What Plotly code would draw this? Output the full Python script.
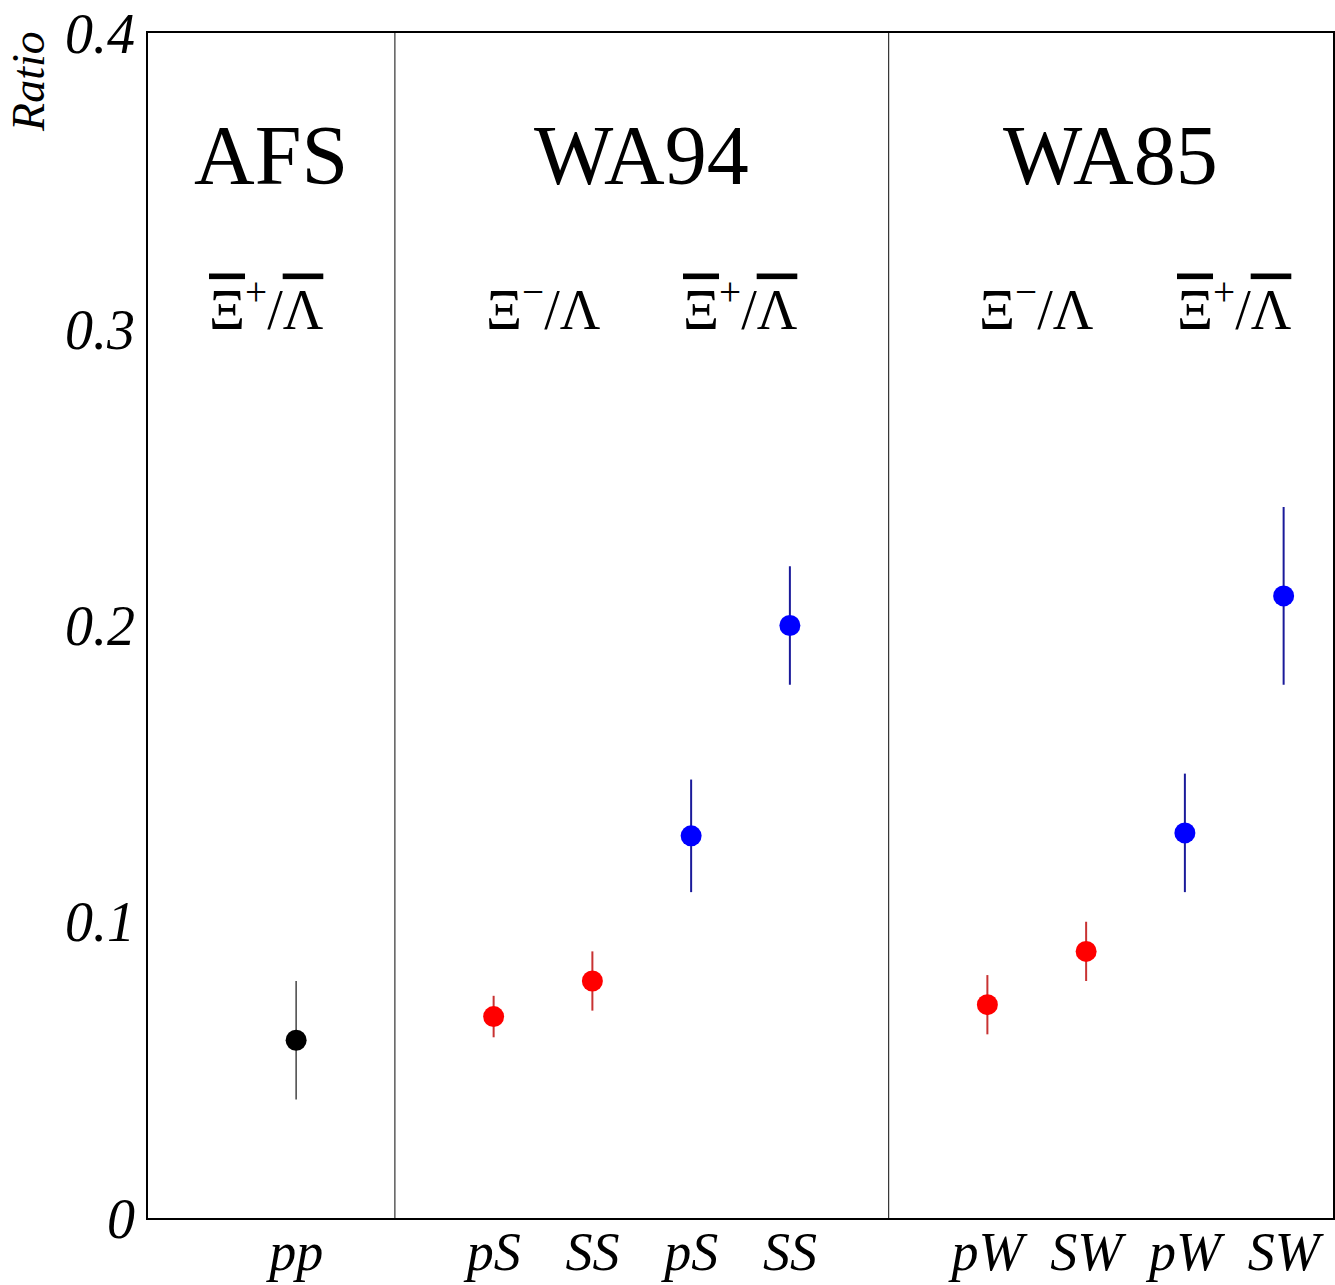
import plotly.graph_objects as go

# ---- data ----
tick_pos = [1.5, 3.5, 4.5, 5.5, 6.5, 8.5, 9.5, 10.5, 11.5]
tick_text = ["pp", "pS", "SS", "pS", "SS", "pW", "SW", "pW", "SW"]

afs_x = [1.5]
afs_y = [0.060]
afs_lo = [0.040]
afs_hi = [0.080]

xi_x = [3.5, 4.5, 8.5, 9.5]
xi_y = [0.068, 0.080, 0.072, 0.090]
xi_lo = [0.061, 0.070, 0.062, 0.080]
xi_hi = [0.075, 0.090, 0.082, 0.100]

axi_x = [5.5, 6.5, 10.5, 11.5]
axi_y = [0.129, 0.200, 0.130, 0.210]
axi_lo = [0.110, 0.180, 0.110, 0.180]
axi_hi = [0.148, 0.220, 0.150, 0.240]

dividers = [2.5, 7.5]
experiments = ["AFS", "WA94", "WA85"]
exp_x = [1.25, 5.0, 9.75]
ratio_labels = ["anti", "xi", "anti", "xi", "anti"]
ratio_x = [1.2, 4.0, 6.0, 9.0, 11.0]

y_ticks = [0, 0.1, 0.2, 0.3, 0.4]
y_text = ["0", "0.1", "0.2", "0.3", "0.4"]

FONT = "Liberation Serif, Times New Roman, serif"

def errs(y, lo, hi):
    return [h - v for v, h in zip(y, hi)], [v - l for v, l in zip(y, lo)]

fig = go.Figure()

def add_series(x, y, lo, hi, color, ecolor, ew):
    plus, minus = errs(y, lo, hi)
    fig.add_trace(go.Scatter(
        x=x, y=y, mode="markers",
        marker=dict(size=21, color=color, line=dict(width=0)),
        error_y=dict(type="data", symmetric=False, array=plus, arrayminus=minus,
                     color=ecolor, thickness=ew, width=0),
        showlegend=False,
    ))

add_series(afs_x, afs_y, afs_lo, afs_hi, "black", "#444444", 1.5)
add_series(xi_x, xi_y, xi_lo, xi_hi, "#ff0000", "#c83232", 2)
add_series(axi_x, axi_y, axi_lo, axi_hi, "#0000ff", "#1a1a9a", 2)

for d in dividers:
    fig.add_shape(type="line", xref="x", yref="paper", x0=d, x1=d, y0=0, y1=1,
                  line=dict(color="#333333", width=1.2))

for name, xx in zip(experiments, exp_x):
    fig.add_annotation(x=xx, y=0.3585, xref="x", yref="y", text=name, showarrow=False,
                       font=dict(family=FONT, size=84, color="black"))

OL = '<span style="text-decoration:overline">'
label_html = {
    "anti": OL + "Ξ</span><sup>+</sup>/" + OL + "Λ</span>",
    "xi": "Ξ<sup>−</sup>/Λ",
}
for kind, xx in zip(ratio_labels, ratio_x):
    fig.add_annotation(x=xx, y=0.308, xref="x", yref="y", text=label_html[kind],
                       showarrow=False, font=dict(family=FONT, size=56, color="black"))

fig.add_annotation(x=-0.101, y=0.959, xref="paper", yref="paper", text="<i>Ratio</i>",
                   textangle=-90, showarrow=False, xanchor="center", yanchor="middle",
                   font=dict(family=FONT, size=46, color="black"))

fig.update_xaxes(range=[0, 12], tickvals=tick_pos, ticktext=["<i>%s</i>" % t for t in tick_text],
                 showgrid=False, zeroline=False, showline=True, mirror=True,
                 linecolor="black", linewidth=1.5, ticks="", automargin=False,
                 ticklabelstandoff=-15,
                 tickfont=dict(family=FONT, size=54, color="black"))
fig.update_yaxes(range=[0, 0.4], tickvals=y_ticks, ticktext=["<i>%s</i>" % t for t in y_text],
                 showgrid=False, zeroline=False, showline=True, mirror=True,
                 linecolor="black", linewidth=1.5, ticks="", automargin=False,
                 tickfont=dict(family=FONT, size=56, color="black"))

fig.update_layout(width=1335, height=1285, margin=dict(l=148, r=2, t=33, b=67),
                  plot_bgcolor="white", paper_bgcolor="white")

fig.write_html("out.html")
